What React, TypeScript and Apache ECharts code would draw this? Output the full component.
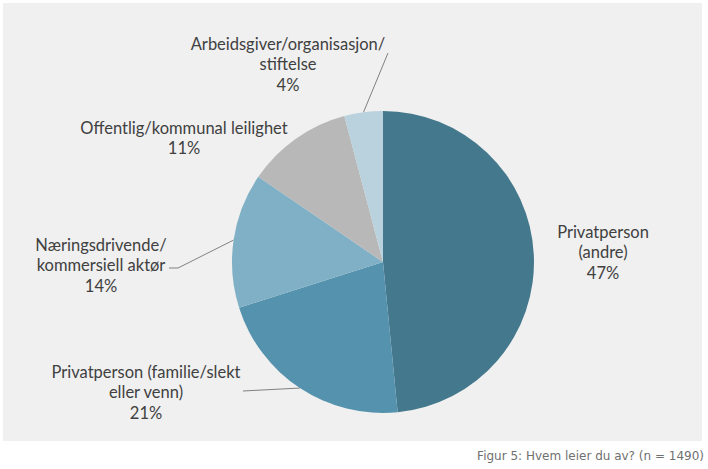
import React, { useEffect, useRef } from "react";
import * as echarts from "echarts";

const categories = [
  "Privatperson\n(andre)",
  "Privatperson (familie/slekt\neller venn)",
  "Næringsdrivende/\nkommersiell aktør",
  "Offentlig/kommunal leilighet",
  "Arbeidsgiver/organisasjon/\nstiftelse",
];
const values = [47, 21, 14, 11, 4];
const colors = ["#44788C", "#5592AD", "#80B0C6", "#B8B8B8", "#B9D2DE"];
const showLine = [false, true, true, false, true];
const caption = "Figur 5: Hvem leier du av? (n = 1490)";

// label centres (layout only)
const labelCenters: [number, number][] = [
  [603, 252],
  [146, 392],
  [101, 265],
  [184, 138],
  [288, 64],
];
// elbow/end points of leader lines (layout only)
const lineEnds: ([number, number][] | null)[] = [
  null,
  [[243, 391]],
  [[178, 268], [169, 268]],
  null,
  [[388, 53]],
];

export default function App() {
  const ref = useRef<HTMLDivElement>(null);
  useEffect(() => {
    if (!ref.current) return;
    const chart = echarts.init(ref.current, null, { renderer: "svg" });
    const font = "Lato, 'Open Sans', sans-serif";
    chart.setOption({
      animation: false,
      backgroundColor: "#ffffff",
      graphic: [
        {
          type: "rect",
          z: 0,
          shape: { x: 3, y: 3, width: 699, height: 438 },
          style: { fill: "#F0F0F0" },
          silent: true,
        },
        {
          type: "text",
          z: 1,
          x: 704,
          y: 456,
          style: {
            text: caption,
            align: "right",
            verticalAlign: "middle",
            font: "12px 'DejaVu Sans', sans-serif",
            fill: "#707070",
          },
        },
      ],
      series: [
        {
          type: "pie",
          z: 2,
          center: [383, 262],
          radius: 151,
          startAngle: 90,
          clockwise: true,
          silent: true,
          itemStyle: { borderWidth: 0 },
          label: {
            show: true,
            position: "outside",
            formatter: "{b}\n{c}%",
            fontFamily: font,
            fontSize: 16.5,
            lineHeight: 20.5,
            color: "#404040",
            align: "center",
          },
          labelLine: {
            show: true,
            length: 10,
            length2: 10,
            lineStyle: { color: "#808080", width: 1 },
          },
          labelLayout: (params: any) => {
            const i = params.dataIndex;
            const c = labelCenters[i];
            const res: any = {
              x: c[0],
              y: c[1],
              align: "center",
              verticalAlign: "middle",
            };
            const ends = lineEnds[i];
            if (ends && params.labelLinePoints) {
              res.labelLinePoints = [params.labelLinePoints[0], ...ends];
            }
            return res;
          },
          data: categories.map((name, i) => ({
            name,
            value: values[i],
            itemStyle: { color: colors[i] },
            labelLine: { show: showLine[i] },
          })),
        },
      ],
    });
    return () => chart.dispose();
  }, []);
  return (
    <div
      ref={ref}
      style={{ position: "fixed", left: 0, top: 0, width: 708, height: 469 }}
    />
  );
}
